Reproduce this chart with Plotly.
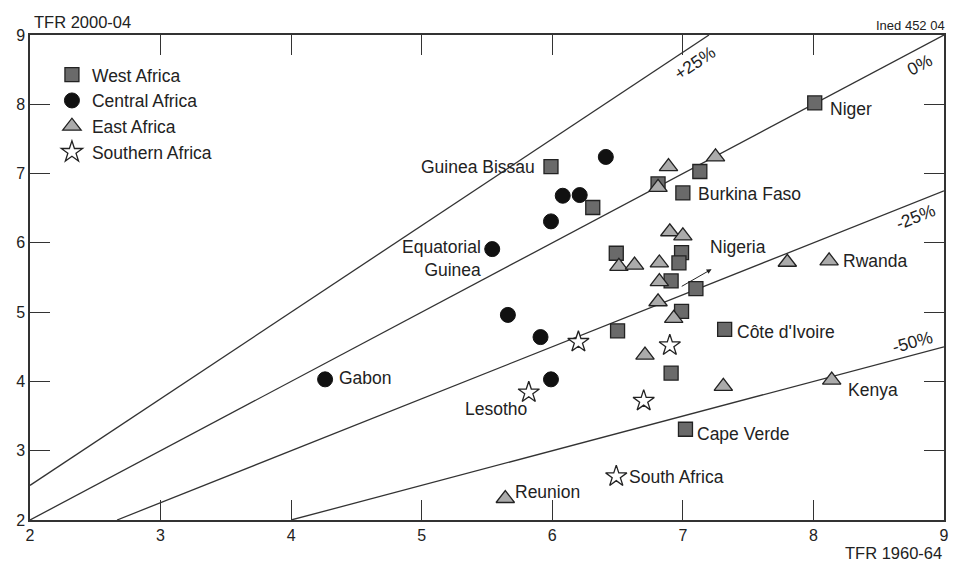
import numpy as np
import plotly.graph_objects as go

# ---- data (TFR 1960-64 vs TFR 2000-04) ----
west_x = [5.99, 6.31, 8.01, 7.13, 6.81, 7.00, 6.49, 6.99, 6.97, 6.91, 7.10, 6.99, 6.50, 7.32, 6.91, 7.02]
west_y = [7.10, 6.51, 8.02, 7.03, 6.85, 6.72, 5.85, 5.86, 5.71, 5.45, 5.34, 5.01, 4.73, 4.75, 4.12, 3.31]

central_x = [6.41, 6.08, 6.21, 5.99, 5.54, 5.66, 5.91, 5.99, 4.26]
central_y = [7.24, 6.68, 6.69, 6.31, 5.91, 4.96, 4.64, 4.03, 4.03]

east_x = [6.89, 7.25, 6.81, 6.90, 7.00, 6.51, 6.63, 6.82, 8.12, 7.80, 6.82, 6.81, 6.93, 6.71, 7.31, 8.14, 5.64]
east_y = [7.10, 7.24, 6.80, 6.16, 6.10, 5.66, 5.68, 5.71, 5.74, 5.72, 5.44, 5.15, 4.91, 4.38, 3.93, 4.02, 2.31]

south_x = [6.20, 6.90, 5.82, 6.70, 6.49]
south_y = [4.57, 4.52, 3.84, 3.72, 2.63]

ref_ratios = [1.25, 1.0, 0.75, 0.5]
ref_labels = ["+25%", "0%", "-25%", "-50%"]

country_labels = ["Niger", "Guinea Bissau", "Burkina Faso", "Equatorial<br>Guinea", "Nigeria",
                  "Rwanda", "Côte d'Ivoire", "Kenya", "Cape Verde", "South Africa",
                  "Reunion", "Lesotho", "Gabon"]
label_x = [8.11, 5.88, 7.10, 5.47, 7.19, 8.21, 7.40, 8.25, 7.09, 6.57, 5.70, 5.82, 4.35]
label_y = [7.93, 7.10, 6.71, 5.78, 5.94, 5.74, 4.71, 3.88, 3.24, 2.62, 2.41, 3.60, 4.05]
label_anchor = ["left", "right", "left", "right", "left", "left", "left", "left", "left",
                "left", "left", "right", "left"]

XMIN, XMAX, YMIN, YMAX = 2, 9, 2, 9
INK = "#222222"
FONT = "Arial, Liberation Sans, Helvetica, sans-serif"
LSIZE = 17.5

fig = go.Figure()

# reference lines
for r in ref_ratios:
    x0 = max(XMIN, YMIN / r)
    x1 = min(XMAX, YMAX / r)
    xs = np.array([x0, x1])
    fig.add_trace(go.Scatter(x=xs, y=r * xs, mode="lines",
                             line=dict(color="#333333", width=1.3),
                             showlegend=False, hoverinfo="skip", cliponaxis=True))

fig.add_trace(go.Scatter(x=west_x, y=west_y, mode="markers", name="West Africa",
                         marker=dict(symbol="square", size=14, color="#6a6a6a",
                                     line=dict(color=INK, width=1.3))))
fig.add_trace(go.Scatter(x=central_x, y=central_y, mode="markers", name="Central Africa",
                         marker=dict(symbol="circle", size=15, color="#111111",
                                     line=dict(color="#111111", width=1))))
fig.add_trace(go.Scatter(x=east_x, y=east_y, mode="markers", name="East Africa",
                         marker=dict(symbol="triangle-up", size=16, color="#ababab",
                                     line=dict(color=INK, width=1.3))))
fig.add_trace(go.Scatter(x=south_x, y=south_y, mode="markers", name="Southern Africa",
                         marker=dict(symbol="star", size=16, color="white",
                                     line=dict(color=INK, width=1.3))))

ann = []
for t, x, y, a in zip(country_labels, label_x, label_y, label_anchor):
    ann.append(dict(x=x, y=y, xref="x", yref="y", text=t, showarrow=False,
                    xanchor=a, yanchor="middle", align="right" if a == "right" else "left",
                    font=dict(size=LSIZE, color=INK, family=FONT)))

# Nigeria arrow
ann.append(dict(x=7.22, y=5.62, ax=6.98, ay=5.36, xref="x", yref="y", axref="x", ayref="y",
                text="", showarrow=True, arrowhead=2, arrowsize=1, arrowwidth=1,
                arrowcolor=INK))

# reference line labels
ref_lab_x = [7.09, 8.81, 8.78, 8.76]
ref_lab_y = [8.60, 8.57, 6.38, 4.57]
ref_lab_ang = [-34, -28, -22, -15]
for t, x, y, g in zip(ref_labels, ref_lab_x, ref_lab_y, ref_lab_ang):
    ann.append(dict(x=x, y=y, xref="x", yref="y", text=t, showarrow=False,
                    textangle=g, xanchor="center", yanchor="middle",
                    font=dict(size=LSIZE, color=INK, family=FONT)))

ann.append(dict(x=0.002, y=1.027, xref="paper", yref="paper", text="TFR 2000-04",
                showarrow=False, xanchor="left", yanchor="middle",
                font=dict(size=16.5, color=INK, family=FONT)))
ann.append(dict(x=1.0, y=-0.068, xref="paper", yref="paper", text="TFR 1960-64",
                showarrow=False, xanchor="right", yanchor="middle",
                font=dict(size=16.5, color=INK, family=FONT)))
ann.append(dict(x=1.003, y=1.0, xref="paper", yref="paper", text="Ined 452 04",
                showarrow=False, xanchor="right", yanchor="bottom",
                font=dict(size=13, color=INK, family=FONT)))

axis_common = dict(showgrid=False, zeroline=False, showline=True, linecolor="#333333",
                   linewidth=1.5, mirror="ticks", ticks="inside", ticklen=20,
                   tickwidth=1.3, tickcolor="#333333", dtick=1, automargin=False,
                   tickfont=dict(size=16, color=INK, family=FONT))

fig.update_layout(
    width=956, height=566,
    margin=dict(l=30, r=12, t=35, b=46, autoexpand=False),
    paper_bgcolor="white", plot_bgcolor="white",
    xaxis=dict(range=[XMIN, XMAX], tick0=2, **axis_common),
    yaxis=dict(range=[YMIN, YMAX], tick0=2, **axis_common),
    legend=dict(x=0.024, y=0.955, xanchor="left", yanchor="top",
                bgcolor="rgba(0,0,0,0)", font=dict(size=LSIZE, color=INK, family=FONT),
                itemsizing="trace", tracegroupgap=0),
    annotations=ann,
    font=dict(family=FONT, color=INK),
)

fig.write_html("out.html", config={"displayModeBar": False},
               post_script="document.body.style.margin='0';document.body.style.overflow='hidden';")
